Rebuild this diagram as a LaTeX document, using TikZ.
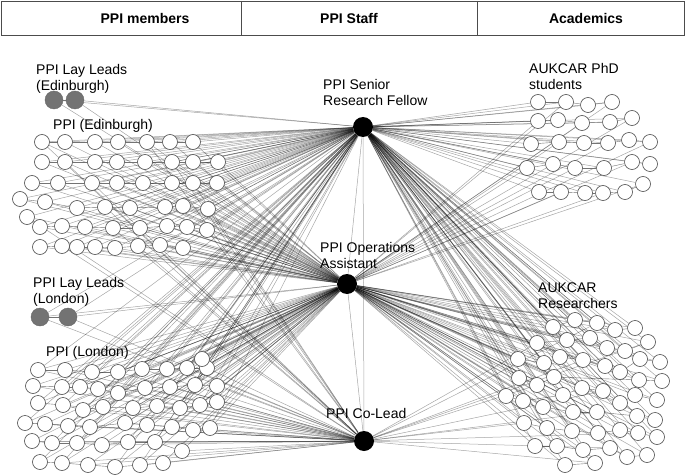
\documentclass[tikz,border=0pt]{standalone}
\usepackage{fontspec}
\setmainfont{Liberation Sans}
\usetikzlibrary{backgrounds}
\begin{document}
\begin{tikzpicture}[x=1pt,y=-1pt,
  pnode/.style={circle,draw=black!70,fill=white,minimum size=15pt,inner sep=0pt,line width=0.6pt},
  lead/.style={circle,draw=black!60,fill=black!55,minimum size=18pt,inner sep=0pt},
  hub/.style={circle,fill=black,minimum size=20pt,inner sep=0pt},
  link/.style={draw=black,draw opacity=0.35,line width=0.5pt},
  nb/.style={draw=black!55,line width=0.4pt},
  lbl/.style={font=\fontsize{14}{16}\selectfont,anchor=north west,align=left,inner sep=0pt},
  hdr/.style={font=\fontsize{14}{16}\selectfont\bfseries,inner sep=0pt}]
\useasboundingbox (0,0) rectangle (685,476);
\begin{scope}[on background layer]
\fill[white] (0,0) rectangle (685,476);
\end{scope}
% header
\draw[black!70,line width=0.8pt] (1,1) rectangle (684,35);
\draw[black!70,line width=0.8pt] (241,1) -- (241,35) (477,1) -- (477,35);
\node[hdr] (h1) at (145,18) {PPI members};
\node[hdr] (h2) at (349,18) {PPI Staff};
\node[hdr] (h3) at (586,18) {Academics};
% staff hubs
\node[hub] (S) at (363,127) {};
\node[hub] (O) at (347,284) {};
\node[hub] (C) at (364,441) {};
\node[lbl] (tS) at (323,79.5) {PPI Senior\\Research Fellow};
\node[lbl] (tO) at (320,242.5) {PPI Operations\\Assistant};
\node[lbl] (tC) at (326,408.5) {PPI Co-Lead};
% lay leads
\node[lead] (LE1) at (54,100) {};
\node[lead] (LE2) at (75,100) {};
\node[lead] (LL1) at (40,317) {};
\node[lead] (LL2) at (68,317) {};
\node[lbl] (tLE) at (36,64.5) {PPI Lay Leads\\(Edinburgh)};
\node[lbl] (tE) at (53,119.5) {PPI (Edinburgh)};
\node[lbl] (tLL) at (33,277.5) {PPI Lay Leads\\(London)};
\node[lbl] (tL) at (46,346.5) {PPI (London)};
\node[lbl] (tP) at (529,63.5) {AUKCAR PhD\\students};
\node[lbl] (tR) at (538,282.5) {AUKCAR\\Researchers};
\begin{scope}[on background layer]
\draw[link] (S) -- (O);
\draw[link] (S) -- (C);
\draw[link] (O) -- (C);
\foreach \a in {LE1,LE2,LL1,LL2}{\draw[link] (\a) -- (S); \draw[link] (\a) -- (O);}
\draw[link] (LL1) -- (C); \draw[link] (LL2) -- (C);
\draw[nb] (LE1) -- (LE2); \draw[nb] (LL1) -- (LL2);
\end{scope}
% Edinburgh
\foreach \row [count=\ri] in {
 {42/142,65/142,95/142,118/142,147/142,170/142,193/142},
 {42/162,65/162,95/162,117/162,145/162,172/162,193/162,218/162},
 {32/183,58/183,92/183,117/183,143/183,172/183,193/183,217/183},
 {20/199,45/202,77/208,105/207,130/208,165/207,183/206,208/209},
 {27/217,40/227,62/226,85/227,113/228,140/228,167/226,187/227,207/230},
 {40/247,62/246,77/247,95/247,115/248,138/246,160/245,183/248}}{
  \foreach \x/\y [count=\ci] in \row {
    \node[pnode] (E-\ri-\ci) at (\x,\y) {};
    \begin{scope}[on background layer]
      \draw[link] (E-\ri-\ci) -- (S);
      \draw[link] (E-\ri-\ci) -- (O);
      \pgfmathtruncatemacro\m{mod(\ri*3+\ci,4)}
      \ifnum\m=0 \draw[link] (E-\ri-\ci) -- (C); \fi
      \ifnum\ci>1 \pgfmathtruncatemacro\pc{\ci-1}\draw[nb] (E-\ri-\pc) -- (E-\ri-\ci); \fi
    \end{scope}
  }
}
% London
\foreach \row [count=\ri] in {
 {38/370,65/370,92/372,118/372,142/369,167/369,187/368,207/368,202/359},
 {33/386,62/387,80/387,98/389,118/393,145/388,170/387,195/385,217/386},
 {38/403,63/405,83/410,103/407,133/408,157/406,180/408,200/405,217/402},
 {25/423,45/424,68/426,90/427,125/423,147/425,172/427,193/430,210/428},
 {32/441,52/443,77/443,102/445,128/442,155/442,182/451},
 {40/462,62/463,88/465,115/467,140/465,163/463}}{
  \foreach \x/\y [count=\ci] in \row {
    \node[pnode] (L-\ri-\ci) at (\x,\y) {};
    \begin{scope}[on background layer]
      \draw[link] (L-\ri-\ci) -- (O);
      \pgfmathtruncatemacro\m{mod(\ri+\ci,3)}
      \ifnum\m=0 \else \draw[link] (L-\ri-\ci) -- (S); \fi
      \ifnum\m=1 \else \draw[link] (L-\ri-\ci) -- (C); \fi
      \ifnum\ci>1 \pgfmathtruncatemacro\pc{\ci-1}\draw[nb] (L-\ri-\pc) -- (L-\ri-\ci); \fi
    \end{scope}
  }
}
% PhD students
\foreach \row [count=\ri] in {
 {538/102,566/102,588/105,612/102},
 {538/121,558/120,582/123,610/122,632/118},
 {531/144,559/142,584/143,608/143,629/140,650/142},
 {527/168,553/164,575/168,604/168,632/162,650/164},
 {539/192,561/192,585/193,603/193,625/192,643/184}}{
  \foreach \x/\y [count=\ci] in \row {
    \node[pnode] (P-\ri-\ci) at (\x,\y) {};
    \begin{scope}[on background layer]
      \draw[link] (P-\ri-\ci) -- (S);
      \pgfmathtruncatemacro\m{mod(\ri+\ci,2)}
      \ifnum\m=1 \draw[link] (P-\ri-\ci) -- (O); \fi
      \ifnum\ci>1 \pgfmathtruncatemacro\pc{\ci-1}\draw[nb] (P-\ri-\pc) -- (P-\ri-\ci); \fi
    \end{scope}
  }
}
% Researchers
\foreach \row [count=\ri] in {
 {553/327,575/320,597/323,615/330,635/328},
 {537/343,567/340,590/338,607/348,625/351,648/342},
 {518/359,544/363,560/357,583/360,605/366,620/372,640/359,660/362},
 {519/378,537/385,554/377,639/380,662/381},
 {506/396,523/401,563/395,582/388,603/391,620/403,635/395,657/400},
 {543/407,573/412,597/412,637/416,655/420},
 {524/423,547/428,572/431,598/433,620/430,638/433,657/437},
 {535/446,557/446,583/450,610/448,627/457,647/455},
 {565/465,595/463}}{
  \foreach \x/\y [count=\ci] in \row {
    \node[pnode] (R-\ri-\ci) at (\x,\y) {};
    \begin{scope}[on background layer]
      \draw[link] (R-\ri-\ci) -- (S);
      \draw[link] (R-\ri-\ci) -- (O);
      \pgfmathtruncatemacro\m{mod(\ri*2+\ci,5)}
      \ifnum\m=0 \draw[link] (R-\ri-\ci) -- (C); \fi
      \ifnum\ci>1 \pgfmathtruncatemacro\pc{\ci-1}\draw[nb] (R-\ri-\pc) -- (R-\ri-\ci); \fi
    \end{scope}
  }
}
\end{tikzpicture}
\end{document}
